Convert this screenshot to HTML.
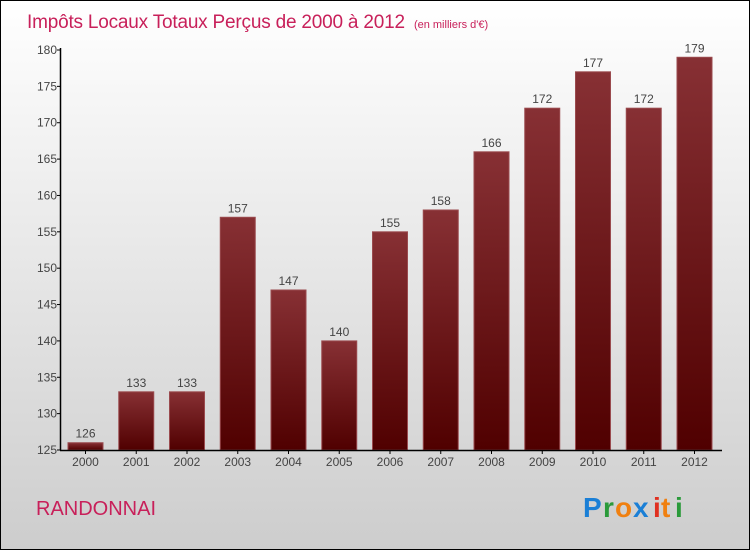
<!DOCTYPE html>
<html><head><meta charset="utf-8"><style>
body{margin:0;}
svg{display:block;font-family:"Liberation Sans",sans-serif;}
</style></head><body>
<svg id="chart" width="750" height="550">
<defs>
<linearGradient id="bg" x1="0" y1="0" x2="0" y2="1"><stop offset="0" stop-color="#ffffff"/><stop offset="1" stop-color="#cdcdcd"/></linearGradient>
<linearGradient id="bar" x1="0" y1="0" x2="0" y2="1"><stop offset="0" stop-color="#873034"/><stop offset="1" stop-color="#500000"/></linearGradient>
</defs>
<rect x="0.5" y="0.5" width="749" height="549" fill="url(#bg)" stroke="#000"/>
<text x="27" y="28" font-size="19" letter-spacing="-0.2" fill="#c8205a">Impôts Locaux Totaux Perçus de 2000 à 2012 <tspan font-size="11" dx="4" letter-spacing="0">(en milliers d'€)</tspan></text>
<g id="bars"></g>
<g id="axes"></g>
<text x="36" y="515" font-size="20" fill="#c8205a">RANDONNAI</text>
<g font-size="28" font-weight="bold" font-family="'Liberation Sans',sans-serif">
<text x="583" y="517" fill="#1a7fd6">P</text><text x="603" y="517" fill="#2a9a3a">r</text><text x="615" y="517" fill="#f08010">o</text><text x="633" y="517" fill="#1a7fd6">x</text><text x="653" y="517" fill="#e03020">i</text><text x="661" y="517" fill="#f08010">t</text><text x="675" y="517" fill="#2a9a3a">i</text>
</g>
</svg>
<script>
const years=["2000","2001","2002","2003","2004","2005","2006","2007","2008","2009","2010","2011","2012"];
const values=[126,133,133,157,147,140,155,158,166,172,177,172,179];
const yTicks=[125,130,135,140,145,150,155,160,165,170,175,180];
const NS="http://www.w3.org/2000/svg";
const y=v=>450-(v-125)*400/55;
const x=i=>68+i*50.75;
function mk(t,a,p){const e=document.createElementNS(NS,t);for(const k in a)e.setAttribute(k,a[k]);p.appendChild(e);return e;}
const bars=document.getElementById('bars'),axes=document.getElementById('axes');
values.forEach((v,i)=>{
 const r=mk('rect',{x:x(i),y:y(v),width:35,height:450-y(v),fill:'url(#bar)',stroke:'#9a4a4e','stroke-width':1},bars);
 
 
 const t=mk('text',{x:x(i)+17.5,y:y(v)-5,'text-anchor':'middle','font-size':12,fill:'#444'},bars);t.textContent=v;
 
 
 const l=mk('text',{x:x(i)+17.5,y:466,'text-anchor':'middle','font-size':12,fill:'#444'},axes);l.textContent=years[i];
 
 
 mk('line',{x1:x(i)+17.5,x2:x(i)+17.5,y1:450,y2:454,stroke:'#000'},axes);
});
yTicks.forEach(v=>{
 mk('line',{x1:57,x2:61,y1:y(v),y2:y(v),stroke:'#000'},axes);
 const t=mk('text',{x:57,y:y(v)+4,'text-anchor':'end','font-size':12,fill:'#444'},axes);t.textContent=v;
 
 
});
const ya=mk('line',{x1:60.5,x2:60.5,y1:48,y2:450,stroke:'#000','stroke-width':1.5},axes);


const xa=mk('line',{x1:60,x2:722,y1:450.5,y2:450.5,stroke:'#000','stroke-width':1.5},axes);


</script>
</body></html>
